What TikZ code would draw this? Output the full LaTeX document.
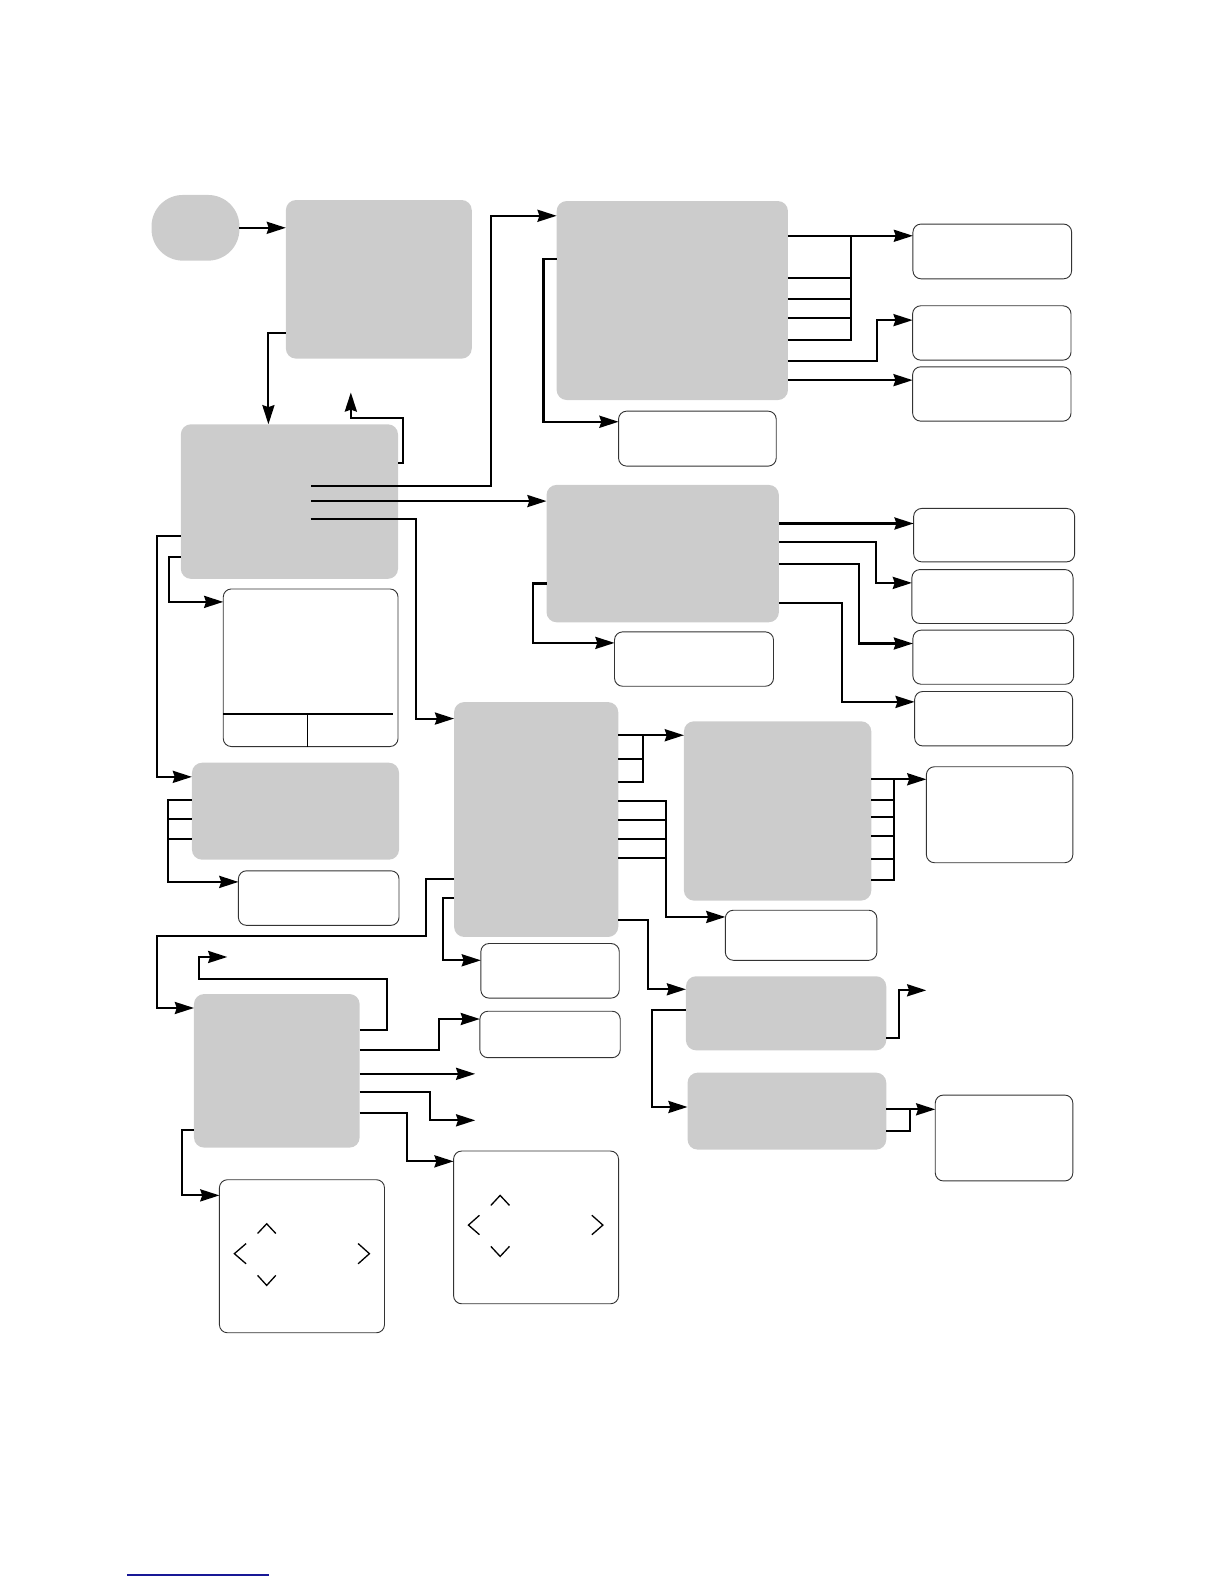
\documentclass[tikz,border=0pt]{standalone}
\usetikzlibrary{arrows.meta,fit}
\definecolor{boxgray}{RGB}{204,204,204}
\definecolor{linkblue}{RGB}{24,24,150}
\begin{document}
\begin{tikzpicture}[x=1pt,y=-1pt,
  gbox/.style={fill=boxgray,draw=none,rounded corners=10pt,inner sep=0pt,outer sep=0pt},
  wbox/.style={fill=white,draw=black!80,line width=0.9pt,rounded corners=8pt,inner sep=0pt,outer sep=0pt},
  conn/.style={line width=2pt},
  arr/.style={conn,-{Stealth[length=19pt,width=12pt,inset=2pt]}},
  chev/.style={line width=1.3pt},
  inner/.style={line width=1.8pt}]
\useasboundingbox (0,0) rectangle (1212,1568);

% gray boxes
\node[gbox,rounded corners=31pt,fit={(150,193) (237,258)}] (S) {};
\node[gbox,fit={(283,198) (467,355)}] (A) {};
\node[gbox,fit={(179,420) (394,573)}] (B) {};
\node[gbox,fit={(551,199) (780,396)}] (C) {};
\node[gbox,fit={(541,480) (771,616)}] (D) {};
\node[gbox,fit={(449.5,695) (612,927.5)}] (E) {};
\node[gbox,fit={(190,755) (395,851)}] (F) {};
\node[gbox,fit={(677,714) (862.5,891.5)}] (H) {};
\node[gbox,fit={(192,984) (356,1136)}] (J) {};
\node[gbox,fit={(679,966.4) (877.3,1039.7)}] (K) {};
\node[gbox,fit={(680.6,1061.8) (877.3,1138)}] (L) {};

% white boxes
\node[wbox,fit={(221,583) (394,739)}] (G) {};
\node[wbox,fit={(236,862) (395,916)}] (F2) {};
\node[wbox,fit={(718,901) (868,950.6)}] (H2) {};
\node[wbox,fit={(917,759) (1062,854)}] (I) {};
\node[wbox,fit={(476,934) (613,988)}] (E2) {};
\node[wbox,fit={(475,1001) (614,1047)}] (J2) {};
\node[wbox,fit={(925.8,1084) (1062,1169)}] (M) {};
\node[wbox,fit={(449,1139.4) (612.3,1290.6)}] (N) {};
\node[wbox,fit={(217.2,1167.8) (380.6,1319.3)}] (O) {};
\node[wbox,fit={(612.3,407) (768.4,461.4)}] (C2) {};
\node[wbox,fit={(608.3,625.5) (765.7,679.3)}] (D2) {};
\node[wbox,fit={(903.7,221.8) (1060.8,276)}] (R1) {};
\node[wbox,fit={(903.4,302.7) (1060.2,356.5)}] (R2) {};
\node[wbox,fit={(903.4,363.1) (1060.2,416.9)}] (R3) {};
\node[wbox,fit={(904.4,503.3) (1063.8,556.2)}] (R4) {};
\node[wbox,fit={(902.7,563.8) (1062.2,617.2)}] (R5) {};
\node[wbox,fit={(903.7,623.8) (1062.8,677.3)}] (R6) {};
\node[wbox,fit={(905.4,684.5) (1061.8,738.4)}] (R7) {};

% free ends
\coordinate (u1) at (347.3,388.5);
\coordinate (k1) at (916.9,980.3);
\coordinate (j0) at (225,947.3);
\coordinate (j3) at (470.4,1063);
\coordinate (j4) at (470.4,1109);
\coordinate (b1) at (308,481);
\coordinate (b2) at (308,496);
\coordinate (b3) at (307.5,513.6);

% S -> A -> B
\draw[arr] (S.east) -- (S.east -| A.west);
\draw[arr] (A.west |- 0,330) -| (265.7,0 |- B.north);
\draw[arr] (B.east |- 0,458.2) -- (399.4,458.2) -- (399.4,414.2) -| (u1);

% B outputs
\draw[arr] (b1) -- (485.9,481) |- (C.west |- 0,213.6);
\draw[arr] (b2) -- (D.west |- 0,496);
\draw[arr] (b3) -- (411.9,513.6) |- (E.west |- 0,711.3);
\draw[arr] (B.west |- 0,530.4) -- (155.8,530.4) |- (F.west |- 0,769);
\draw[arr] (B.west |- 0,551.2) -- (167.3,551.2) |- (G.west |- 0,595.8);

% G inner lines
\draw[inner] (G.west |- 0,706.7) -- (388.9,706.7);
\draw[inner] (304.3,706.7) -- (304.3,0 |- G.south);

% F -> F2
\draw[arr] (F.west |- 0,792) -- (166,792) |- (F2.west |- 0,873);
\draw[conn] (F.west |- 0,811) -- (166,811);
\draw[conn] (F.west |- 0,831) -- (166,831);

% C outputs
\draw[conn] (C.east |- 0,336.3) -| (842.4,233.4);
\foreach \y in {275,295.7,314.9} \draw[conn] (C.east |- 0,\y) -- (842.4,\y);
\draw[arr] (C.east |- 0,233.4) -- (R1.west |- 0,233.4);
\draw[arr] (C.east |- 0,357.2) -- (868.1,357.2) |- (R2.west |- 0,316.9);
\draw[arr] (C.east |- 0,376.3) -- (R3.west |- 0,376.3);
\draw[arr] (C.west |- 0,256.5) -- (538,256.5) |- (C2.west |- 0,417.5);

% D outputs
\draw[arr] (D.east |- 0,518.2) -- (R4.west |- 0,518.2);
\draw[arr] (D.east |- 0,536.4) -- (867.4,536.4) |- (R5.west |- 0,577);
\draw[arr] (D.east |- 0,558) -- (850.2,558) |- (R6.west |- 0,637);
\draw[arr] (D.east |- 0,597) -- (833.4,597) |- (R7.west |- 0,694.8);
\draw[arr] (D.west |- 0,577.6) -- (527.4,577.6) |- (D2.west |- 0,636.4);

% E outputs
\draw[arr] (E.east |- 0,727.8) -- (H.west |- 0,727.8);
\draw[conn] (E.east |- 0,774) -| (636.4,727.8);
\draw[conn] (E.east |- 0,751.6) -- (636.4,751.6);
\draw[arr] (E.east |- 0,792.8) -| (659.2,907.7) -- (H2.west |- 0,907.7);
\foreach \y in {811.6,830.8,849.3} \draw[conn] (E.east |- 0,\y) -- (659.2,\y);
\draw[arr] (E.east |- 0,911) -- (641.3,911) |- (K.west |- 0,979.3);
\draw[arr] (E.west |- 0,869.7) -- (421.5,869.7) -- (421.5,926.8) -- (155.8,926.8) |- (J.west |- 0,997.8);
\draw[arr] (E.west |- 0,888.9) -- (438.3,888.9) |- (E2.west |- 0,950.6);

% H outputs
\draw[arr] (H.east |- 0,771.4) -- (I.west |- 0,771.4);
\draw[conn] (H.east |- 0,871.4) -| (884.9,771.4);
\foreach \y in {792.2,809,827.5,849.9} \draw[conn] (H.east |- 0,\y) -- (884.9,\y);

% K, L outputs
\draw[arr] (K.west |- 0,1000.1) -- (645.3,1000.1) |- (L.west |- 0,1095.8);
\draw[arr] (K.east |- 0,1027.5) -- (890.2,1027.5) |- (k1);
\draw[arr] (L.east |- 0,1098.1) -- (M.west |- 0,1098.1);
\draw[conn] (L.east |- 0,1119.6) -| (900.4,1098.1);

% J outputs
\draw[arr] (J.east |- 0,1019.2) -- (382.9,1019.2) -- (382.9,969.4) -- (197,969.4) |- (j0);
\draw[arr] (J.east |- 0,1039) -- (434.4,1039) |- (J2.west |- 0,1008.7);
\draw[arr] (J.east |- 0,1063) -- (j3);
\draw[arr] (J.east |- 0,1081) -- (425.5,1081) |- (j4);
\draw[arr] (J.east |- 0,1101.8) -- (402.7,1101.8) |- (N.west |- 0,1149.6);
\draw[arr] (J.west |- 0,1118.6) -- (179.9,1118.6) |- (O.west |- 0,1183.3);

% chevrons in O
\draw[chev] (255,1221) -- (264,1211.4) -- (273,1221);
\draw[chev] (243.6,1231) -- (232,1241) -- (243.6,1251);
\draw[chev] (255,1262.5) -- (264,1272.4) -- (273,1262.5);
\draw[chev] (354.5,1231) -- (365.7,1241) -- (354.5,1251);
% chevrons in N
\draw[chev] (485.9,1193.2) -- (495.1,1183.3) -- (504.3,1193.2);
\draw[chev] (474.6,1203) -- (463.7,1212.7) -- (474.6,1222.2);
\draw[chev] (485.9,1233.8) -- (495.1,1243.7) -- (504.3,1233.8);
\draw[chev] (585.9,1203) -- (596.8,1212.7) -- (585.9,1222.2);

% blue rule at the bottom
\draw[linkblue,line width=2pt] (125.8,1559.2) -- (266.4,1559.2);
\end{tikzpicture}
\end{document}
